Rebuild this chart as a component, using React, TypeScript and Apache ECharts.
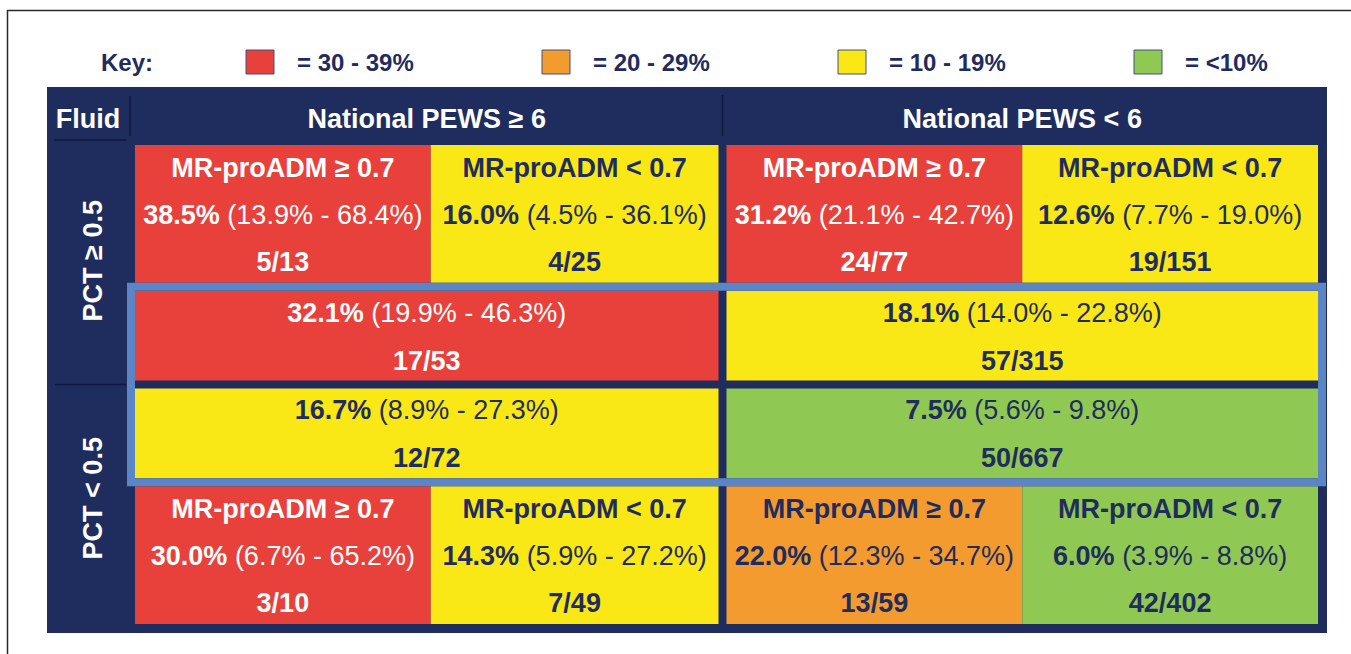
import React, { useEffect, useRef } from "react";
import * as echarts from "echarts";

// ---------- data ----------
const cornerHeader = "Fluid";
const columnHeaders = ["National PEWS ≥ 6", "National PEWS < 6"];
const rowHeaders = ["PCT ≥ 0.5", "PCT < 0.5"];
const keyTitle = "Key:";
const keyLabels = ["= 30 - 39%", "= 20 - 29%", "= 10 - 19%", "= <10%"];
const keyThresholds = [30, 20, 10, 0];

const cellTitles = [
  "MR-proADM ≥ 0.7", "MR-proADM < 0.7", "MR-proADM ≥ 0.7", "MR-proADM < 0.7",
  "", "",
  "", "",
  "MR-proADM ≥ 0.7", "MR-proADM < 0.7", "MR-proADM ≥ 0.7", "MR-proADM < 0.7",
];
const cellRates = [38.5, 16.0, 31.2, 12.6, 32.1, 18.1, 16.7, 7.5, 30.0, 14.3, 22.0, 6.0];
const cellLow = [13.9, 4.5, 21.1, 7.7, 19.9, 14.0, 8.9, 5.6, 6.7, 5.9, 12.3, 3.9];
const cellHigh = [68.4, 36.1, 42.7, 19.0, 46.3, 22.8, 27.3, 9.8, 65.2, 27.2, 34.7, 8.8];
const cellEvents = [5, 4, 24, 19, 17, 57, 12, 50, 3, 7, 13, 42];
const cellTotals = [13, 25, 77, 151, 53, 315, 72, 667, 10, 49, 59, 402];
const cellColStart = [0, 1, 2, 3, 0, 2, 0, 2, 0, 1, 2, 3];
const cellColEnd = [1, 2, 3, 4, 2, 4, 2, 4, 1, 2, 3, 4];
const cellRow = [0, 0, 0, 0, 1, 1, 2, 2, 3, 3, 3, 3];
const rowEdges = [0, 1.45, 2.45, 3.45, 4.9];
const highlightRows = [1, 2];

// ---------- styles ----------
const NAVY = "#1f2c5e";
const LINE_DARK = "#0e1840";
const FRAME = "#5b85c5";
const WHITE = "#ffffff";
const keyColors = ["#e8413c", "#f39b2e", "#f9e816", "#8fc852"];
const FONT = '"Liberation Sans", Arial, sans-serif';
const GRID = { left: 135, top: 145, width: 1183, height: 479 };
const X_MAX = 4;
const Y_MAX = rowEdges[rowEdges.length - 1];
const GAP = 8;

function bandOf(rate: number) {
  return keyThresholds.findIndex((t) => rate >= t);
}

export default function App() {
  const ref = useRef<HTMLDivElement>(null);

  useEffect(() => {
    if (!ref.current) return;
    const chart = echarts.init(ref.current, null, { renderer: "svg" });

    const cellData = cellRates.map((r, i) => [
      cellColStart[i],
      cellColEnd[i],
      rowEdges[cellRow[i]],
      rowEdges[cellRow[i] + 1],
      r,
    ]);

    const renderCell = (params: any, api: any) => {
      const i = params.dataIndex;
      const x0 = api.value(0), x1 = api.value(1), y0 = api.value(2), y1 = api.value(3);
      const rate = api.value(4);
      const p0 = api.coord([x0, y0]);
      const p1 = api.coord([x1, y1]);
      let left = p0[0], right = p1[0], top = p0[1], bottom = p1[1];
      if (x1 === 2) right -= GAP;
      if (y0 > 0) top += GAP / 2;
      if (y1 < Y_MAX) bottom -= GAP / 2;
      const b = bandOf(rate);
      const fill = keyColors[b];
      const txt = b === 0 ? WHITE : NAVY;
      const cx = (left + right) / 2;
      const cy = (top + bottom) / 2;
      const hasTitle = cellTitles[i] !== "";
      const children: any[] = [
        { type: "rect", shape: { x: left, y: top, width: right - left, height: bottom - top }, style: { fill } },
      ];
      const rateLine = {
        type: "text",
        x: cx,
        y: cy + (hasTitle ? 1 : -23),
        style: {
          text: `{b|${rate.toFixed(1)}%}{r| (${cellLow[i].toFixed(1)}% - ${cellHigh[i].toFixed(1)}%)}`,
          align: "center",
          verticalAlign: "middle",
          rich: {
            b: { fontWeight: "bold", fontSize: 27, fontFamily: FONT, fill: txt, color: txt },
            r: { fontWeight: "normal", fontSize: 27, fontFamily: FONT, fill: txt, color: txt },
          },
        },
      };
      const countLine = {
        type: "text",
        x: cx,
        y: cy + (hasTitle ? 48 : 25),
        style: {
          text: `${cellEvents[i]}/${cellTotals[i]}`,
          align: "center",
          verticalAlign: "middle",
          fontWeight: "bold",
          fontSize: 27,
          fontFamily: FONT,
          fill: txt,
        },
      };
      if (hasTitle) {
        children.push({
          type: "text",
          x: cx,
          y: cy - 46,
          style: {
            text: cellTitles[i],
            align: "center",
            verticalAlign: "middle",
            fontWeight: "bold",
            fontSize: 27,
            fontFamily: FONT,
            fill: txt,
          },
        });
      }
      children.push(rateLine, countLine);
      return { type: "group", children };
    };

    const renderFrame = (params: any, api: any) => {
      const p0 = api.coord([api.value(0), api.value(2)]);
      const p1 = api.coord([api.value(1), api.value(3)]);
      return {
        type: "rect",
        shape: { x: p0[0] - 4, y: p0[1], width: p1[0] - p0[0] + 8, height: p1[1] - p0[1] },
        style: { fill: "none", stroke: FRAME, lineWidth: 8 },
      };
    };

    const colW = GRID.width / X_MAX;
    const midEdge = GRID.left + 2 * colW;
    const halfCenters = [
      (GRID.left + midEdge - GAP) / 2,
      (midEdge + GRID.left + GRID.width) / 2,
    ];
    const midX = midEdge - GAP / 2;
    const pxPerRow = GRID.height / Y_MAX;
    const rowLabelY = [
      GRID.top + ((rowEdges[0] + rowEdges[2]) / 2) * pxPerRow,
      GRID.top + ((rowEdges[2] + rowEdges[4]) / 2) * pxPerRow,
    ];
    const dividerY = GRID.top + rowEdges[2] * pxPerRow;

    const graphics: any[] = [
      { type: "rect", z: -1, shape: { x: 7.5, y: 10.5, width: 1400, height: 700 }, style: { fill: "none", stroke: "#2a2a2a", lineWidth: 1.5 } },
      { type: "rect", z: 0, shape: { x: 47, y: 87, width: 1280, height: 546 }, style: { fill: NAVY } },
      { type: "line", z: 1, shape: { x1: 130, y1: 96, x2: 130, y2: 136 }, style: { stroke: LINE_DARK, lineWidth: 1.5 } },
      { type: "line", z: 1, shape: { x1: 54, y1: 140, x2: 126, y2: 140 }, style: { stroke: LINE_DARK, lineWidth: 1.5 } },
      { type: "line", z: 1, shape: { x1: midX, y1: 95, x2: midX, y2: 136 }, style: { stroke: LINE_DARK, lineWidth: 1.5 } },
      { type: "line", z: 1, shape: { x1: 55, y1: dividerY, x2: 126, y2: dividerY }, style: { stroke: LINE_DARK, lineWidth: 1.5 } },
      {
        type: "text", z: 5, x: 88, y: 119,
        style: { text: cornerHeader, fill: WHITE, fontWeight: "bold", fontSize: 27, fontFamily: FONT, align: "center", verticalAlign: "middle" },
      },
      ...columnHeaders.map((t, i) => ({
        type: "text", z: 5, x: halfCenters[i], y: 119,
        style: { text: t, fill: WHITE, fontWeight: "bold", fontSize: 27, fontFamily: FONT, align: "center", verticalAlign: "middle" },
      })),
      ...rowHeaders.map((t, i) => ({
        type: "text", z: 5, x: 93, y: rowLabelY[i] + (i === 0 ? -4 : -6), rotation: Math.PI / 2,
        style: { text: t, fill: WHITE, fontWeight: "bold", fontSize: 27, fontFamily: FONT, align: "center", verticalAlign: "middle" },
      })),
      {
        type: "text", z: 5, x: 127, y: 62,
        style: { text: keyTitle, fill: NAVY, fontWeight: "bold", fontSize: 24, fontFamily: FONT, align: "center", verticalAlign: "middle" },
      },
      ...keyLabels.flatMap((t, i) => {
        const sx = 246 + i * 296;
        return [
          { type: "rect", z: 5, shape: { x: sx, y: 50, width: 28, height: 24 }, style: { fill: keyColors[i], stroke: "#44507a", lineWidth: 1 } },
          {
            type: "text", z: 5, x: sx + 51, y: 62,
            style: { text: t, fill: NAVY, fontWeight: "bold", fontSize: 24, fontFamily: FONT, align: "left", verticalAlign: "middle" },
          },
        ];
      }),
    ];

    chart.setOption({
      animation: false,
      backgroundColor: "#ffffff",
      grid: { left: GRID.left, top: GRID.top, width: GRID.width, height: GRID.height },
      xAxis: { type: "value", min: 0, max: X_MAX, show: false },
      yAxis: { type: "value", min: 0, max: Y_MAX, inverse: true, show: false },
      graphic: { elements: graphics },
      series: [
        {
          type: "custom",
          name: "cells",
          z: 2,
          renderItem: renderCell,
          data: cellData,
          silent: true,
        },
        {
          type: "custom",
          name: "frame",
          z: 3,
          renderItem: renderFrame,
          data: [[0, X_MAX, rowEdges[highlightRows[0]], rowEdges[highlightRows[1] + 1]]],
          silent: true,
        },
      ],
    });

    return () => chart.dispose();
  }, []);

  return (
    <div
      ref={ref}
      style={{ position: "absolute", left: 0, top: 0, width: 1351, height: 654, background: "#fff" }}
    />
  );
}
